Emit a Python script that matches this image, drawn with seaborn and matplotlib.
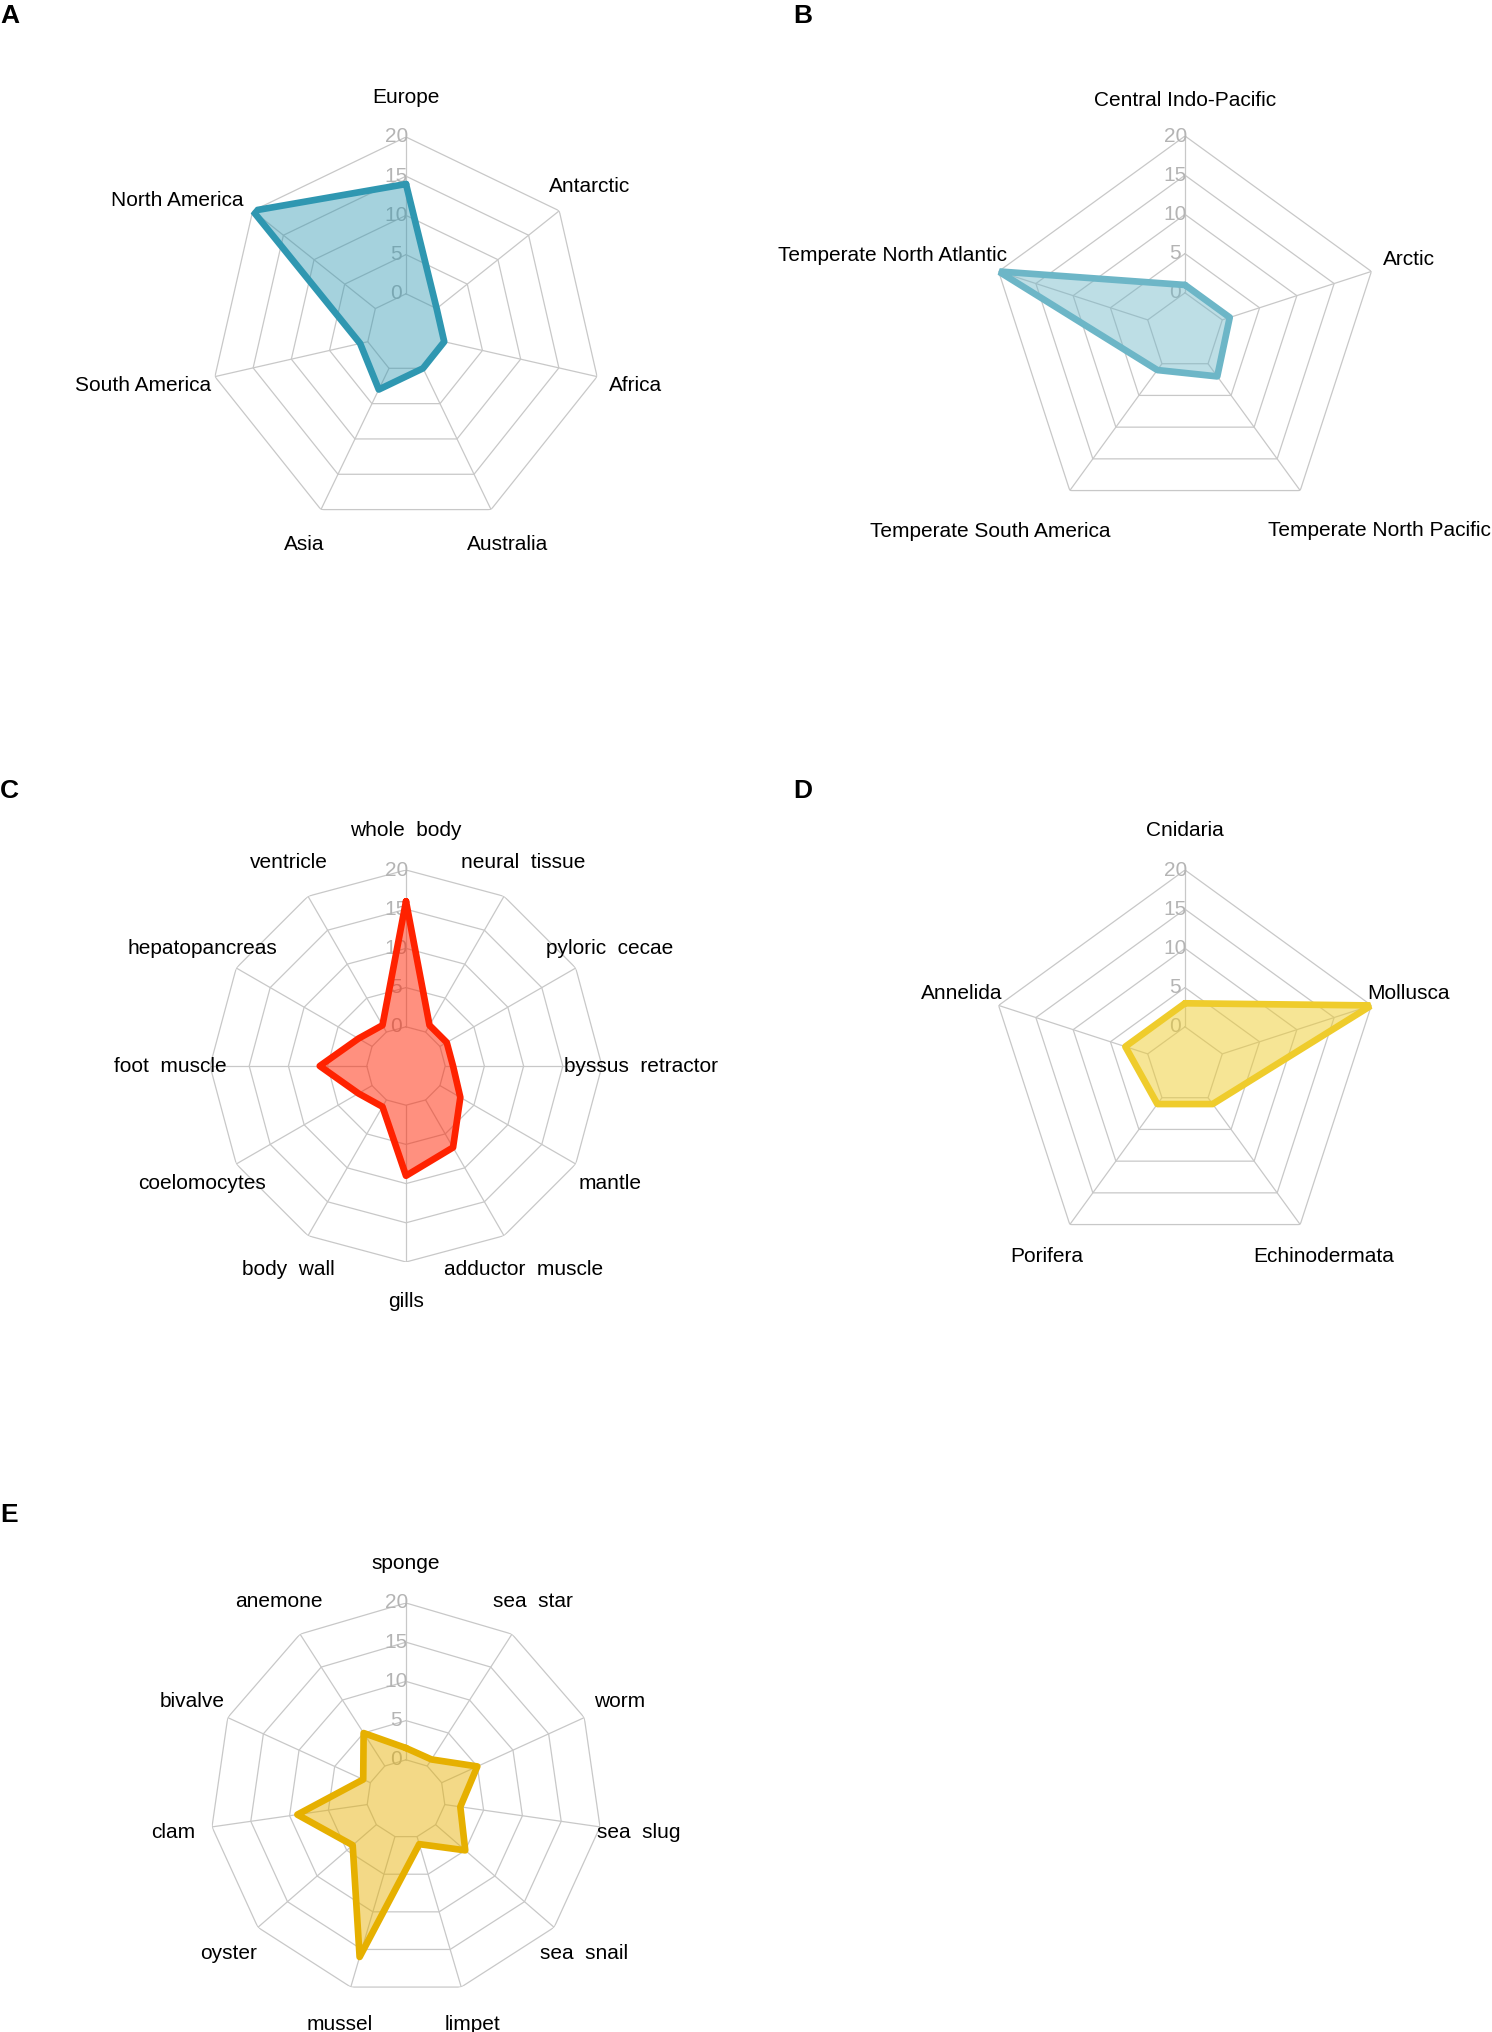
import numpy as np
import pandas as pd
import matplotlib
matplotlib.use('Agg')
import matplotlib.pyplot as plt
import seaborn as sns

# A - geographic distribution (counterclockwise from top)
continents = ['Europe', 'North America', 'South America', 'Asia',
              'Australia', 'Africa', 'Antarctic']
continent_counts = [14, 20, 1, 3, 0, 0, 0]

# B - marine realms
realms = ['Central Indo-Pacific', 'Temperate North Atlantic',
          'Temperate South America', 'Temperate North Pacific', 'Arctic']
realm_counts = [1, 20, 1, 2, 1]

# C - tissues
tissues = ['whole  body', 'ventricle', 'hepatopancreas', 'foot  muscle',
           'coelomocytes', 'body  wall', 'gills', 'adductor  muscle',
           'mantle', 'byssus  retractor', 'pyloric  cecae', 'neural  tissue']
tissue_counts = [16, 1, 2, 6, 2, 1, 9, 7, 3, 1, 1, 1]

# D - phyla
phyla = ['Cnidaria', 'Annelida', 'Porifera', 'Echinodermata', 'Mollusca']
phylum_counts = [3, 3, 1, 1, 20]

# E - organisms
organisms = ['sponge', 'anemone', 'bivalve', 'clam', 'oyster', 'mussel',
             'limpet', 'sea  snail', 'sea  slug', 'worm', 'sea  star']
organism_counts = [1.5, 5, 1, 9, 4, 16, 1, 5, 2, 5, 1]

ring_levels = [0, 5, 10, 15, 20]

W, H = 1492, 2032
R = 196
GRID = '#c8c8c8'

sns.set_theme(style='white')
plt.rcParams['font.family'] = ['Liberation Sans', 'DejaVu Sans']


def radar(fig, cx, cy, labels, values, color, offsets=None, alpha=0.45):
    ax = fig.add_axes([(cx - R) / W, 1 - (cy + R) / H, 2 * R / W, 2 * R / H],
                      projection='polar')
    ax.set_theta_offset(np.pi / 2)
    ax.grid(False)
    ax.set_xticks([])
    ax.set_yticks([])
    ax.spines['polar'].set_visible(False)
    ax.patch.set_alpha(0)

    n = len(labels)
    theta = np.linspace(0, 2 * np.pi, n, endpoint=False)
    closed = np.append(theta, 2 * np.pi)

    # polygon grid
    for lev in ring_levels:
        ax.plot(closed, [lev] * (n + 1), color=GRID, lw=0.9, zorder=1)
    for t in theta:
        ax.plot([t, t], [0, 20], color=GRID, lw=0.9, zorder=1)

    for lev in ring_levels:
        ax.text(0.475, 0.5 + 0.5 * (lev + 5) / 25, str(lev), transform=ax.transAxes,
                ha='center', va='center', color='#b4b4b4', fontsize=15, zorder=1.5)

    df = pd.DataFrame({'theta': closed, 'count': np.append(values, values[0])})
    ax.fill(df['theta'], df['count'], color=color, alpha=alpha, lw=0, zorder=2)
    sns.lineplot(data=df, x='theta', y='count', sort=False, estimator=None,
                 color=color, lw=4.8, solid_joinstyle='round', ax=ax, legend=False,
                 zorder=3)

    offsets = offsets or {}
    for t, lab in zip(theta, labels):
        dx, dy = offsets.get(lab, (0, 0))
        ax.annotate(lab, xy=(t, 25), xytext=(dx * 0.72, dy * 0.72),
                    textcoords='offset points', ha='center', va='center',
                    fontsize=15, color='black', annotation_clip=False)

    ax.set_xlabel('')
    ax.set_ylabel('')
    ax.set_ylim(-5, 20)
    return ax


fig = plt.figure(figsize=(W / 100, H / 100), dpi=100)
fig.patch.set_facecolor('white')

radar(fig, 406, 333, continents, continent_counts, '#2f97b1',
      offsets={'North America': (-45, -14), 'South America': (-34, 0)}, alpha=0.43)
radar(fig, 1185, 332, realms, realm_counts, '#6db6c7',
      offsets={'Temperate North Atlantic': (-69, 4),
               'Temperate South America': (-57, -9),
               'Temperate North Pacific': (56, -8),
               'Central Indo-Pacific': (0, -4)})
radar(fig, 406, 1066, tissues, tissue_counts, '#ff2200', alpha=0.5)
radar(fig, 1185, 1066, phyla, phylum_counts, '#efcc2c', alpha=0.5)
radar(fig, 406, 1799, organisms, organism_counts, '#e6b000', alpha=0.47)

for letter, x, y in [('A', 0, 4), ('B', 793, 4), ('C', 0, 779),
                     ('D', 793, 779), ('E', 0, 1503)]:
    fig.text(x / W, 1 - y / H, letter, fontsize=19, fontweight='bold',
             ha='left', va='top', color='black')

fig.savefig('out.png', dpi=100, facecolor='white')
